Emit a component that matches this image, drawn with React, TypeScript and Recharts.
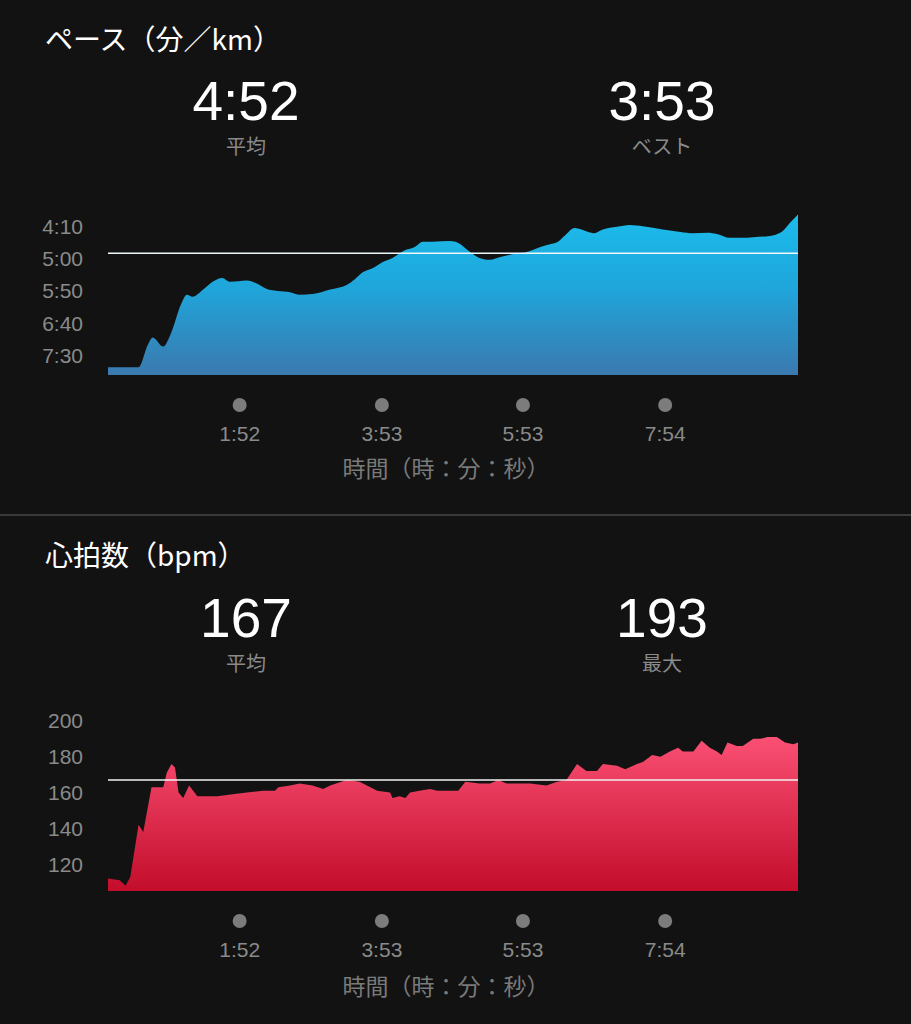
import React from 'react';
import { AreaChart, Area, XAxis, YAxis, ReferenceLine } from 'recharts';

// shared time axis (minutes from start, labelled h:mm)
const timeTicks = [112, 233, 353, 474];
const timeTickLabels = ['1:52', '3:53', '5:53', '7:54'];
const timeEnd = 587;

// pace, seconds per km
const paceTime = [0, 26, 34, 38, 47, 53, 63, 67, 72, 81, 89, 97, 104, 118, 127, 135, 144, 155, 163, 174, 189, 203, 210, 217, 225, 233, 242, 253, 261, 268, 276, 291, 298, 308, 316, 325, 333, 345, 356, 368, 376, 382, 389, 397, 404, 413, 421, 433, 444, 455, 472, 487, 498, 510, 518, 529, 538, 549, 563, 573, 580, 587];
const paceSec = [468, 468, 433, 422, 436, 418, 367, 356, 359, 348, 336, 330, 336, 334, 339, 347, 350, 352, 356, 355, 348, 341, 332, 321, 315, 306, 299, 287, 282, 274, 274, 273, 276, 290, 299, 302, 298, 293, 290, 282, 278, 275, 264, 253, 256, 261, 255, 251, 248, 250, 255, 259, 261, 260, 262, 268, 268, 267, 265, 259, 245, 232];
const paceTicks = [250, 300, 350, 400, 450];
const paceDomain = [225, 480];
const paceAvg = 292;

// heart rate, bpm
const hrTime = [0, 10, 15, 19, 26, 30, 37, 47, 50, 54, 57, 60, 64, 69, 76, 93, 106, 118, 132, 142, 145, 155, 163, 174, 183, 189, 203, 214, 229, 240, 242, 248, 253, 257, 265, 274, 280, 298, 304, 316, 325, 332, 339, 348, 359, 373, 382, 390, 399, 407, 416, 421, 433, 440, 450, 455, 463, 470, 478, 485, 489, 498, 505, 512, 518, 522, 527, 535, 540, 549, 555, 561, 569, 576, 583, 587];
const hrBpm = [112, 111, 108, 113, 142, 138, 163, 163, 171, 176, 174, 160, 157, 164, 158, 158, 159, 160, 161, 161, 163, 164, 165, 164, 162, 164, 167, 166, 161, 160, 157, 158, 157, 160, 161, 162, 161, 161, 166, 165, 165, 167, 165, 165, 165, 164, 166, 167, 176, 172, 172, 176, 175, 173, 176, 177, 181, 180, 183, 185, 183, 183, 189, 185, 183, 181, 188, 186, 186, 190, 190, 191, 191, 188, 187, 188];
const hrTicks = [120, 140, 160, 180, 200];
const hrDomain = [105, 205];
const hrAvg = 167;

const paceData = paceTime.map((t, i) => ({ t, v: paceSec[i] }));
const hrData = hrTime.map((t, i) => ({ t, v: hrBpm[i] }));

const FONT = '"Liberation Sans", Arial, "Noto Sans CJK JP", sans-serif';
const JP_FONT = '"Noto Sans CJK JP", "Liberation Sans", sans-serif';
const GREY = '#8a8a8a';

const fmtPace = (v: number) => `${Math.floor(v / 60)}:${String(v % 60).padStart(2, '0')}`;

const TimeTick = (props: any) => {
  const { x, y, payload } = props;
  const label = timeTickLabels[timeTicks.indexOf(payload.value)];
  return (
    <g>
      <circle cx={x} cy={y + 30} r={7} fill="#7c7c7c" />
      <text x={x} y={y + 58} textAnchor="middle" dominantBaseline="central" fill={GREY} fontSize={21} fontFamily={FONT}>
        {label}
      </text>
    </g>
  );
};

const makeValueTick = (fmt: (v: number) => string) => (props: any) => (
  <text x={83} y={props.y} textAnchor="end" dominantBaseline="central" fill={GREY} fontSize={21} fontFamily={FONT}>
    {fmt(props.payload.value)}
  </text>
);

const chartMargin = { top: 10, right: 113, left: 0, bottom: 0 };

const App: React.FC = () => {
  return (
    <div style={{ position: 'absolute', left: 0, top: 0, width: 911, height: 1024, background: '#121212', overflow: 'hidden', fontFamily: FONT }}>
      <svg width={911} height={1024} style={{ position: 'absolute', left: 0, top: 0 }}>
        <g fontFamily={FONT}>
          <text x={45} y={38} fill="#ffffff" fontSize={28} fontFamily={JP_FONT} dominantBaseline="central">ペース（分／km）</text>
          <text x={246} y={101} fill="#ffffff" fontSize={55} textAnchor="middle" dominantBaseline="central">4:52</text>
          <text x={246} y={145} fill={GREY} fontSize={20} fontFamily={JP_FONT} textAnchor="middle" dominantBaseline="central">平均</text>
          <text x={662} y={101} fill="#ffffff" fontSize={55} textAnchor="middle" dominantBaseline="central">3:53</text>
          <text x={662} y={145} fill={GREY} fontSize={20} fontFamily={JP_FONT} textAnchor="middle" dominantBaseline="central">ベスト</text>
          <text x={446} y={467} fill="#7a7a7a" fontSize={23} fontFamily={JP_FONT} textAnchor="middle" dominantBaseline="central">時間（時：分：秒）</text>

          <line x1={0} x2={911} y1={515} y2={515} stroke="#3a3a3a" strokeWidth={2} />

          <text x={45} y={554} fill="#ffffff" fontSize={28} fontFamily={JP_FONT} dominantBaseline="central">心拍数（bpm）</text>
          <text x={246} y={618} fill="#ffffff" fontSize={55} textAnchor="middle" dominantBaseline="central">167</text>
          <text x={246} y={662} fill={GREY} fontSize={20} fontFamily={JP_FONT} textAnchor="middle" dominantBaseline="central">平均</text>
          <text x={662} y={618} fill="#ffffff" fontSize={55} textAnchor="middle" dominantBaseline="central">193</text>
          <text x={662} y={662} fill={GREY} fontSize={20} fontFamily={JP_FONT} textAnchor="middle" dominantBaseline="central">最大</text>
          <text x={446} y={985} fill="#7a7a7a" fontSize={23} fontFamily={JP_FONT} textAnchor="middle" dominantBaseline="central">時間（時：分：秒）</text>
        </g>
      </svg>

      <div style={{ position: 'absolute', left: 0, top: 200 }}>
        <AreaChart width={911} height={245} data={paceData} margin={chartMargin}>
          <defs>
            <linearGradient id="paceFill" x1="0" y1="0" x2="0" y2="1">
              <stop offset="0%" stopColor="#1bbcec" />
              <stop offset="45%" stopColor="#1fa6db" />
              <stop offset="100%" stopColor="#3a79ae" />
            </linearGradient>
          </defs>
          <XAxis dataKey="t" type="number" domain={[0, timeEnd]} ticks={timeTicks} interval={0}
            axisLine={false} tickLine={false} tickSize={0} tickMargin={0} height={70} tick={<TimeTick />} />
          <YAxis type="number" domain={paceDomain} ticks={paceTicks} interval={0} reversed allowDataOverflow
            axisLine={false} tickLine={false} width={108} tick={makeValueTick(fmtPace)} />
          <Area type="monotone" dataKey="v" stroke="none" fill="url(#paceFill)" fillOpacity={1}
            baseValue={paceDomain[1]} isAnimationActive={false} dot={false} activeDot={false} />
          <ReferenceLine y={paceAvg} stroke="#eef8fc" strokeWidth={1.5} />
        </AreaChart>
      </div>

      <div style={{ position: 'absolute', left: 0, top: 702 }}>
        <AreaChart width={911} height={259} data={hrData} margin={chartMargin}>
          <defs>
            <linearGradient id="hrFill" x1="0" y1="0" x2="0" y2="1">
              <stop offset="0%" stopColor="#fa5074" />
              <stop offset="100%" stopColor="#c30d2b" />
            </linearGradient>
          </defs>
          <XAxis dataKey="t" type="number" domain={[0, timeEnd]} ticks={timeTicks} interval={0}
            axisLine={false} tickLine={false} tickSize={0} tickMargin={0} height={70} tick={<TimeTick />} />
          <YAxis type="number" domain={hrDomain} ticks={hrTicks} interval={0} allowDataOverflow
            axisLine={false} tickLine={false} width={108} tick={makeValueTick((v) => String(v))} />
          <Area type="linear" dataKey="v" stroke="none" fill="url(#hrFill)" fillOpacity={1}
            baseValue={hrDomain[0]} isAnimationActive={false} dot={false} activeDot={false} />
          <ReferenceLine y={hrAvg} stroke="#f2f2f2" strokeWidth={1.5} />
        </AreaChart>
      </div>
    </div>
  );
};

export default App;
